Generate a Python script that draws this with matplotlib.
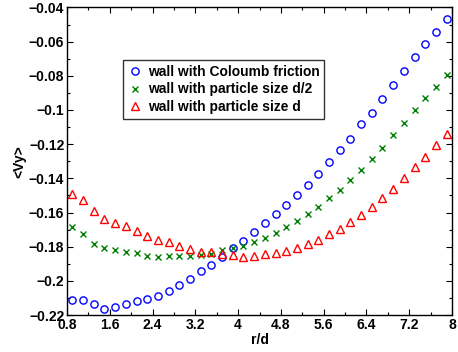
import numpy as np
import matplotlib
matplotlib.use("Agg")
import matplotlib.pyplot as plt
from matplotlib.ticker import MultipleLocator, FuncFormatter

plt.rcParams["font.family"] = ["Liberation Sans", "DejaVu Sans"]
plt.rcParams["font.weight"] = "bold"

# ---- profils <Vy> en fonction de r/d ----
r_d = [0.9, 1.1, 1.3, 1.5, 1.7, 1.9, 2.1, 2.3, 2.5, 2.7, 2.9, 3.1,
       3.3, 3.5, 3.7, 3.9, 4.1, 4.3, 4.5, 4.7, 4.9, 5.1, 5.3, 5.5,
       5.7, 5.9, 6.1, 6.3, 6.5, 6.7, 6.9, 7.1, 7.3, 7.5, 7.7, 7.9]

vy_coulomb = [-0.2115, -0.2115, -0.2137, -0.2163, -0.2151, -0.2137,
              -0.2117, -0.2104, -0.2086, -0.2059, -0.2025, -0.1988,
              -0.1943, -0.1906, -0.1863, -0.1808, -0.1767, -0.1716,
              -0.1661, -0.1608, -0.1557, -0.1498, -0.1439, -0.1376,
              -0.1302, -0.1233, -0.1167, -0.1084, -0.1017, -0.0938,
              -0.0856, -0.0774, -0.0692, -0.0616, -0.0541, -0.0469]

vy_half_d = [-0.1684, -0.1725, -0.1782, -0.1808, -0.1821, -0.1831,
             -0.1837, -0.1853, -0.1859, -0.1857, -0.1855, -0.1853,
             -0.1849, -0.1841, -0.1821, -0.1808, -0.1794, -0.1772,
             -0.1747, -0.1721, -0.1684, -0.1647, -0.1610, -0.1565,
             -0.1518, -0.1469, -0.1410, -0.1353, -0.1286, -0.1222,
             -0.1145, -0.1074, -0.1002, -0.0932, -0.0863, -0.0793]

vy_d = [-0.1494, -0.1524, -0.1594, -0.1637, -0.1661, -0.1680,
        -0.1706, -0.1739, -0.1759, -0.1774, -0.1796, -0.1813,
        -0.1829, -0.1833, -0.1843, -0.1847, -0.1862, -0.1857,
        -0.1845, -0.1835, -0.1823, -0.1806, -0.1784, -0.1759,
        -0.1723, -0.1694, -0.1653, -0.1612, -0.1568, -0.1518,
        -0.1461, -0.1396, -0.1335, -0.1273, -0.1204, -0.1141]

labels = ["wall with Coloumb friction",
          "wall with particle size d/2",
          "wall with particle size d"]

fig = plt.figure(figsize=(4.58, 3.52), dpi=100)
ax = fig.add_axes([0.1463, 0.1051, 0.8406, 0.8736])

ax.plot(r_d, vy_coulomb, "o", mfc="none", mec="blue", mew=1.0, ms=5.2,
        label=labels[0])
ax.plot(r_d, vy_half_d, "x", color=(0, 0.5, 0), mew=1.0, ms=3.8,
        label=labels[1])
ax.plot(r_d, vy_d, "^", mfc="none", mec="red", mew=1.0, ms=5.8,
        label=labels[2])

ax.set_xlim(0.8, 8)
ax.set_ylim(-0.22, -0.04)
ax.xaxis.set_major_locator(MultipleLocator(0.8))
ax.xaxis.set_minor_locator(MultipleLocator(0.4))
ax.yaxis.set_major_locator(MultipleLocator(0.02))
ax.yaxis.set_minor_locator(MultipleLocator(0.01))
fmt = FuncFormatter(lambda v, p: ("%g" % round(v, 4)).replace("-", "\u2212"))
ax.xaxis.set_major_formatter(fmt)
ax.yaxis.set_major_formatter(fmt)
ax.tick_params(which="both", direction="in", top=True, right=True,
               labelsize=10, width=0.8)
ax.tick_params(which="major", length=4, pad=2)
ax.tick_params(which="minor", length=2)
for lbl in ax.get_xticklabels() + ax.get_yticklabels():
    lbl.set_fontweight("bold")
for s in ax.spines.values():
    s.set_linewidth(1.0)

ax.set_xlabel("r/d", fontsize=10, fontweight="bold", labelpad=1)
ax.set_ylabel("<Vy>", fontsize=10, fontweight="bold", labelpad=2)

leg = ax.legend(loc="upper left", bbox_to_anchor=(0.145, 0.83),
                fontsize=9.9, frameon=True, fancybox=False,
                handlelength=1.0, handletextpad=0.45, borderpad=0.35,
                labelspacing=0.28, borderaxespad=0, markerscale=1.0)
leg.get_frame().set_edgecolor("black")
leg.get_frame().set_linewidth(1.0)
for t in leg.get_texts():
    t.set_fontweight("bold")

fig.savefig("out.png", dpi=100)
